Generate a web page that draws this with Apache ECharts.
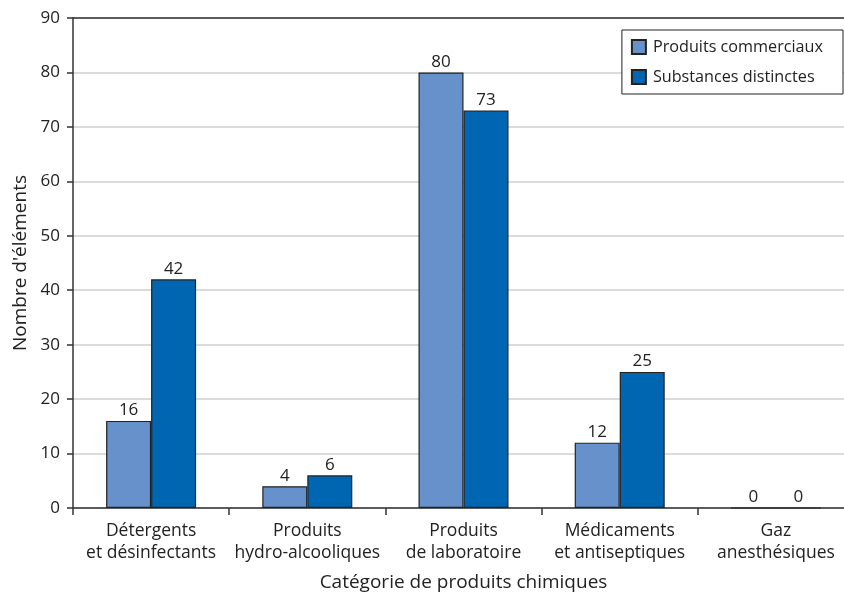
<!DOCTYPE html>
<html>
<head>
<meta charset="utf-8">
<script src="https://cdn.jsdelivr.net/npm/echarts@6/dist/echarts.min.js"></script>
<style>
  html, body { margin: 0; padding: 0; background: #fff; overflow: hidden; }
  /* the plot area runs a little past the right edge of the window */
  #chart { width: 855px; height: 597px; }
</style>
</head>
<body>
<div id="chart"></div>
<script>
// Chemical product categories and counts
const categories = [
  'Détergents\net désinfectants',
  'Produits\nhydro-alcooliques',
  'Produits\nde laboratoire',
  'Médicaments\net antiseptiques',
  'Gaz\nanesthésiques'
];
const produitsCommerciaux = [16, 4, 80, 12, 0];
const substancesDistinctes = [42, 6, 73, 25, 0];
const seriesNames = ['Produits commerciaux', 'Substances distinctes'];
const yTicks = [0, 10, 20, 30, 40, 50, 60, 70, 80, 90];

const FONT = 'Open Sans';
const TEXT = '#222';

const chart = echarts.init(document.getElementById('chart'), null, { renderer: 'canvas' });

const labelStyle = {
  show: true,
  position: 'top',
  distance: 2,
  color: TEXT,
  fontFamily: FONT,
  fontSize: 17
};

chart.setOption({
  animation: false,
  textStyle: { fontFamily: FONT },
  grid: { left: 73, top: 18, right: 1, bottom: 86, containLabel: false },
  legend: {
    right: 12,
    top: 30,
    orient: 'vertical',
    itemWidth: 14,
    itemHeight: 14,
    itemGap: 14,
    padding: [9, 20, 9, 9],
    borderColor: '#222',
    borderWidth: 1,
    backgroundColor: '#fff',
    icon: 'rect',
    textStyle: { fontFamily: FONT, fontSize: 16.2, color: TEXT, padding: [0, 0, 0, 2] },
    data: seriesNames
  },
  xAxis: [{
    type: 'category',
    data: categories,
    name: 'Catégorie de produits chimiques',
    nameLocation: 'middle',
    nameGap: 65,
    nameTextStyle: { fontFamily: FONT, fontSize: 19, color: TEXT },
    axisLine: { lineStyle: { color: '#333', width: 1.5 } },
    axisTick: { show: true, interval: 0, length: 7, lineStyle: { color: '#333', width: 1.5 } },
    axisLabel: { interval: 0, color: TEXT, fontFamily: FONT, fontSize: 17.5, lineHeight: 22, margin: 12 },
    splitLine: { show: false }
  }, {
    type: 'category',
    data: categories,
    position: 'top',
    axisLine: { lineStyle: { color: '#333', width: 1.5 } },
    axisTick: { show: false },
    axisLabel: { show: false }
  }],
  yAxis: {
    type: 'value',
    min: yTicks[0],
    max: yTicks[yTicks.length - 1],
    interval: yTicks[1] - yTicks[0],
    name: "Nombre d'éléments",
    nameLocation: 'middle',
    nameGap: 42,
    nameTextStyle: { fontFamily: FONT, fontSize: 19, color: TEXT },
    axisLine: { show: true, lineStyle: { color: '#333', width: 1.5 } },
    axisTick: { show: true, length: 6, lineStyle: { color: '#333', width: 1.5 } },
    axisLabel: { color: TEXT, fontFamily: FONT, fontSize: 17, margin: 13 },
    splitLine: { show: true, lineStyle: { color: '#cfcfcf', width: 1.5 } }
  },
  series: [{
    name: seriesNames[0],
    type: 'bar',
    data: produitsCommerciaux,
    barWidth: 45,
    barGap: '0%',
    itemStyle: { color: '#6791cb', borderColor: '#222', borderWidth: 1.2 },
    label: labelStyle
  }, {
    name: seriesNames[1],
    type: 'bar',
    data: substancesDistinctes,
    barWidth: 45,
    barGap: '0%',
    itemStyle: { color: '#0066b2', borderColor: '#222', borderWidth: 1.2 },
    label: labelStyle
  }]
});
</script>
</body>
</html>
